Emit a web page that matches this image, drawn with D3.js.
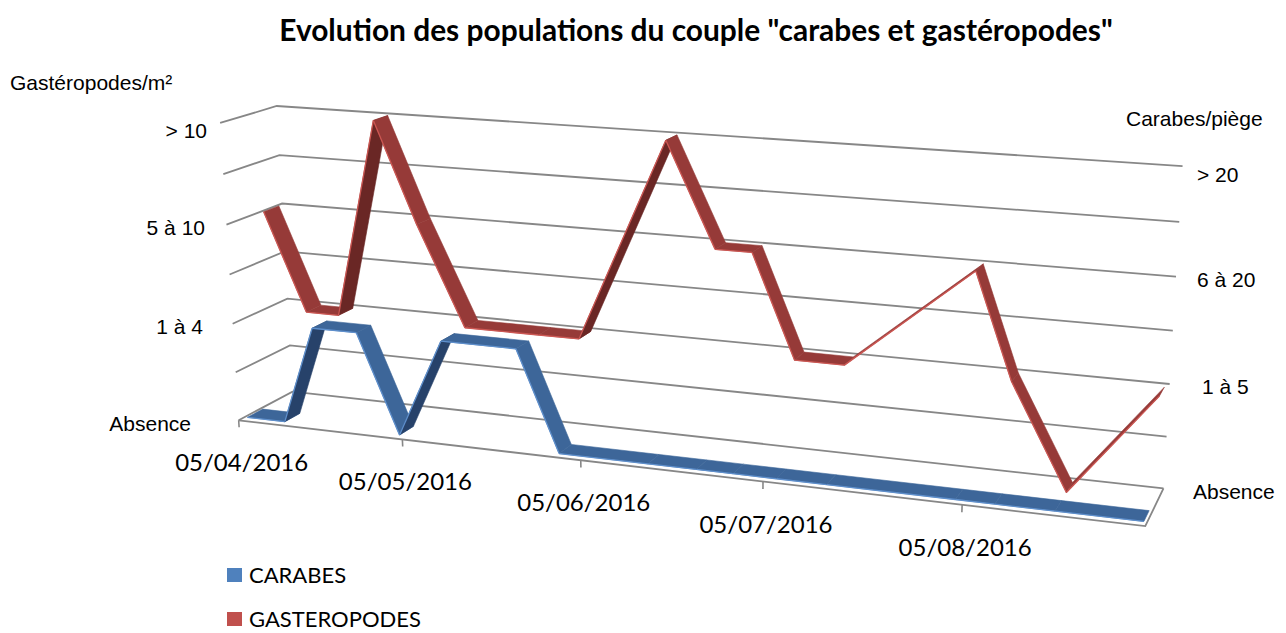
<!DOCTYPE html>
<html><head><meta charset="utf-8">
<script src="https://cdn.jsdelivr.net/npm/d3@7"></script>
<style>body{margin:0;background:#fff} svg{display:block}</style>
</head><body><svg id="c" width="1286" height="633"></svg>
<script>
// ---------- DATA ----------
const dates = ["05/04/2016","12/04/2016","18/04/2016","26/04/2016","03/05/2016","11/05/2016","24/05/2016","31/05/2016","15/06/2016","23/06/2016","29/06/2016","06/07/2016","14/07/2016","03/08/2016","09/08/2016","18/08/2016","31/08/2016"];
const carabes      = [0,0,1,1,0,1,1,0,0,0,0,0,0,0,0,0,0];
const gasteropodes = [2,1,1,3,2,1,1,1,3,2,2,1,1,2,1,0,1];
const tickDates = ["05/04/2016","05/05/2016","05/06/2016","05/07/2016","05/08/2016"];
const leftLabels  = ["Absence","1 à 4","5 à 10","> 10"];
const rightLabels = ["Absence","1 à 5","6 à 20","> 20"];
const seriesNames = ["CARABES","GASTEROPODES"];
const valueMax = 3, gridStep = 0.5;

// ---------- SCALES ----------
const parse = d3.timeParse("%d/%m/%Y");
const D = dates.map(parse);
const ext = d3.extent(D);
// date axis "between tick marks": each day is a slot, points sit mid-slot
const xS = d3.scaleTime().domain([ext[0], d3.timeDay.offset(ext[1],1)]).range([0,1]);
const mid = d => new Date(+d + 12*3600*1000);
const yS = d3.scaleLinear().domain([0,valueMax]).range([0,1]);
const zS = d3.scaleBand().domain(seriesNames).range([0,1]);
const ribbonHalf = 0.14;

// ---------- 3D PROJECTION (perspective fitted to the plot box) ----------
const box = [ // [X,Y,Z, px,py] layout anchors of the 3D plot box
 [0,0,0,240,420],[1,0,0,1143,527],[0,0,1,293,392],[1,0,1,1163,488],
 [0,1,0,221,123],[0,1,1,277,107],[1,1,1,1182,166],
 [0,0.5,0,228,274],[0,0.5,1,285,252],[1,0.5,1,1173,330],
 [0,1/3,0,232,323],[0,2/3,0,227,224],
 [0,1/3,1,287,298],[1,1/3,1,1170,383],[0,2/3,1,281,204],[1,2/3,1,1177,277]
];
const tickPx = [240,402,580,764,964];
tickDates.slice(1).forEach((d,i)=>{
  const px = tickPx[i+1], py = 420 + (px-240)*(527-420)/(1143-240);
  box.push([xS(parse(d)),0,0,px,py]);
});
const CX=640, CY=316, SC=640;
function fit(pts){
  const A=[],b=[];
  pts.forEach(([X,Y,Z,u0,v0])=>{
    const u=(u0-CX)/SC, v=(v0-CY)/SC;
    A.push([X,Y,Z,1,0,0,0,0,-u*X,-u*Y,-u*Z]); b.push(u);
    A.push([0,0,0,0,X,Y,Z,1,-v*X,-v*Y,-v*Z]); b.push(v);
  });
  const n=11, M=[...Array(n)].map(()=>Array(n+1).fill(0));
  for(let r=0;r<A.length;r++) for(let i=0;i<n;i++){
    for(let j=0;j<n;j++) M[i][j]+=A[r][i]*A[r][j];
    M[i][n]+=A[r][i]*b[r];
  }
  for(let c=0;c<n;c++){
    let p=c; for(let r=c+1;r<n;r++) if(Math.abs(M[r][c])>Math.abs(M[p][c])) p=r;
    [M[c],M[p]]=[M[p],M[c]];
    for(let r=0;r<n;r++){ if(r===c) continue; const f=M[r][c]/M[c][c]; for(let j=c;j<=n;j++) M[r][j]-=f*M[c][j]; }
  }
  return M.map((row,i)=>row[n]/row[i]);
}
const m = fit(box);
function P(X,Y,Z){
  const w=m[8]*X+m[9]*Y+m[10]*Z+1;
  return [(m[0]*X+m[1]*Y+m[2]*Z+m[3])/w*SC+CX, (m[4]*X+m[5]*Y+m[6]*Z+m[7])/w*SC+CY];
}
function area(ps){let a=0;for(let i=0;i<ps.length;i++){const [x1,y1]=ps[i],[x2,y2]=ps[(i+1)%ps.length];a+=x1*y2-x2*y1;}return a/2;}

const svg = d3.select("#c");
const line = d3.line();
const gridCol = "#878787";

// grid lines: left wall + back wall
const levels = d3.range(0, valueMax+1e-9, gridStep);
svg.append("g").selectAll("path").data(levels).join("path")
  .attr("d", v=>line([P(0,yS(v),0),P(0,yS(v),1),P(1,yS(v),1)]))
  .attr("fill","none").attr("stroke",gridCol).attr("stroke-width",1.8);
// floor outline
svg.append("path").attr("d", line([P(0,0,0),P(1,0,0),P(1,0,1)]))
  .attr("fill","none").attr("stroke",gridCol).attr("stroke-width",1.8);
// ticks
const tickG = svg.append("g");
tickDates.forEach(d=>{
  const X=xS(parse(d));
  tickG.append("path").attr("d", line([P(X,0,0),P(X,-0.024,0)]))
    .attr("stroke",gridCol).attr("stroke-width",1.6);
  const [tx,ty]=P(X,0,0);
  tickG.append("text").attr("x",tx+3).attr("y",ty+51).attr("text-anchor","middle")
    .attr("font-family","Lato").attr("font-size",24).attr("fill","#000").text(d);
});

// ribbons
const series = [
 {name:"GASTEROPODES", values:gasteropodes, top:"#963a38", under:"#6a2725", edge:"#cc5753", legend:"#c0504d"},
 {name:"CARABES", values:carabes, top:"#3d6699", under:"#27426a", edge:"#5e8fcc", legend:"#4f81bd"}
];
series.forEach(s=>{
  const zc = zS(s.name)+zS.bandwidth()/2, z0=zc-ribbonHalf, z1=zc+ribbonHalf;
  const refSign = Math.sign(area([P(0,0,z0),P(1,0,z0),P(1,0,z1),P(0,0,z1)]));
  const g = svg.append("g");
  for(let k=0;k<D.length-1;k++){
    const X1=xS(mid(D[k])),X2=xS(mid(D[k+1])),Y1=yS(s.values[k]),Y2=yS(s.values[k+1]);
    const q=[P(X1,Y1,z0),P(X2,Y2,z0),P(X2,Y2,z1),P(X1,Y1,z1)];
    const topVis = Math.sign(area(q))===refSign;
    const col = topVis? s.top : s.under;
    g.append("path").attr("d", line(q)+"Z").attr("fill",col).attr("stroke",col).attr("stroke-width",0.6).attr("stroke-linejoin","round");
    g.append("path").attr("d", line([q[0],q[1]])).attr("stroke",s.edge).attr("stroke-width",1.3).attr("fill","none");
  }
});

// axis labels
const arial = "Liberation Sans, Arial, sans-serif";
const leftX = v => v===0 ? 191 : 201 + 2*v;
const rightX = [1193,1202,1197,1197];
leftLabels.forEach((t,v)=>{
  const [,py]=P(0,yS(v),0);
  svg.append("text").attr("x",leftX(v)).attr("y",py+3+(v===valueMax?5:0)+7.4).attr("text-anchor","end")
    .attr("font-family",arial).attr("font-size",21).text(t);
});
rightLabels.forEach((t,v)=>{
  const [,py]=P(1,yS(v),1);
  svg.append("text").attr("x",rightX[v]).attr("y",py+3+(v===valueMax?5:0)+7.4).attr("text-anchor","start")
    .attr("font-family",arial).attr("font-size",21).text(t);
});
svg.append("text").attr("x",10).attr("y",90).attr("font-family",arial).attr("font-size",21).text("Gastéropodes/m²");
svg.append("text").attr("x",1126).attr("y",126).attr("font-family",arial).attr("font-size",21).text("Carabes/piège");

// title
const title = svg.append("text").attr("x",696).attr("y",41).attr("text-anchor","middle")
  .attr("font-family","Lato").attr("font-weight","bold").attr("font-size",28)
  .text('Evolution des populations du couple "carabes et gastéropodes"');
const tl = title.node().getComputedTextLength();
title.attr("font-size", 28*834/tl);

// legend
const legend = [{name:"CARABES",col:"#4f81bd",y:568},{name:"GASTEROPODES",col:"#c0504d",y:612}];
legend.forEach(l=>{
  svg.append("rect").attr("x",227).attr("y",l.y).attr("width",15).attr("height",14).attr("fill",l.col);
  svg.append("text").attr("x",249).attr("y",l.y+15).attr("font-family","Lato").attr("font-size",22).text(l.name);
});
</script></body></html>
